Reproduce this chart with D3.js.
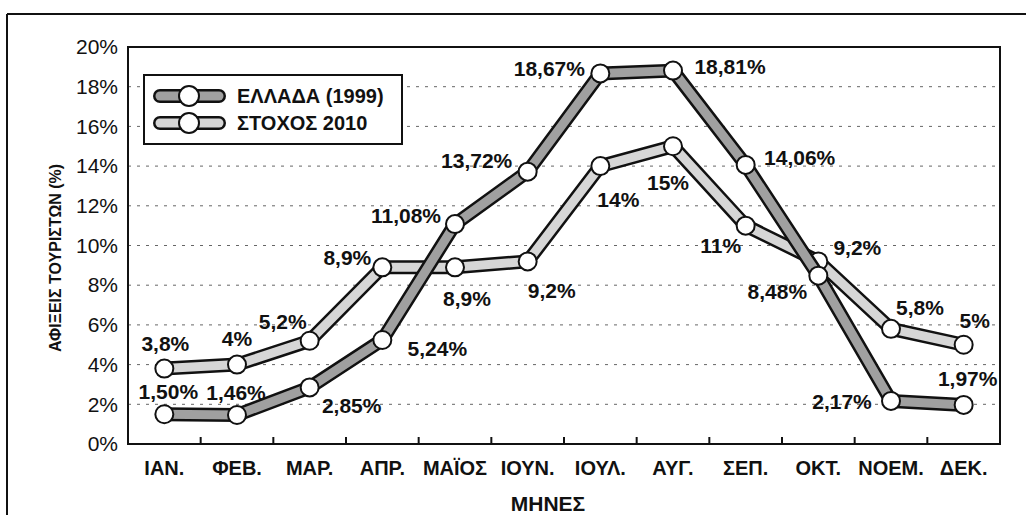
<!DOCTYPE html>
<html>
<head>
<meta charset="utf-8">
<script src="https://cdn.jsdelivr.net/npm/d3@7"></script>
<style>
  html, body { margin: 0; padding: 0; background: #fff; }
  svg { display: block; }
  text { font-family: 'Liberation Sans', Arial, sans-serif; fill: #111; }
</style>
</head>
<body>
<div id="chart"></div>
<script>
(function () {
  'use strict';

  /* data */
  var months = ['ΙΑΝ.', 'ΦΕΒ.', 'ΜΑΡ.', 'ΑΠΡ.', 'ΜΑΪΟΣ', 'ΙΟΥΝ.', 'ΙΟΥΛ.', 'ΑΥΓ.', 'ΣΕΠ.', 'ΟΚΤ.', 'ΝΟΕΜ.', 'ΔΕΚ.'];
  var greece1999 = [1.50, 1.46, 2.85, 5.24, 11.08, 13.72, 18.67, 18.81, 14.06, 8.48, 2.17, 1.97];
  var target2010 = [3.8, 4, 5.2, 8.9, 8.9, 9.2, 14, 15, 11, 9.2, 5.8, 5];
  var labels1999 = ['1,50%', '1,46%', '2,85%', '5,24%', '11,08%', '13,72%', '18,67%', '18,81%', '14,06%', '8,48%', '2,17%', '1,97%'];
  var labels2010 = ['3,8%', '4%', '5,2%', '8,9%', '8,9%', '9,2%', '14%', '15%', '11%', '9,2%', '5,8%', '5%'];
  var yTicks = [0, 2, 4, 6, 8, 10, 12, 14, 16, 18, 20];
  var seriesNames = ['ΕΛΛΑΔΑ (1999)', 'ΣΤΟΧΟΣ 2010'];

  /* where each value label sits relative to its point */
  var OFFSETS_1999 = [[4, -23], [-1, -23], [42, 18], [55, 9], [-49, -9], [-51, -11],
    [-51, -5], [57, -4], [54, -7], [-41, 16], [-49, 1], [4, -26]];
  var OFFSETS_2010 = [[1, -25], [0, -26], [-27, -19], [-35, -10], [12, 31], [24, 29],
    [18, 33], [-5, 36], [-25, 20], [39, -14], [29, -21], [11, -24]];

  var COLORS = {
    G1999: '#a0a0a0',
    T2010: '#d6d6d6'
  };

  var width = 1026;
  var height = 515;
  var plot = { left: 128, top: 47, right: 1000, bottom: 444 };

  var svg = d3.select('#chart').append('svg')
    .attr('width', width)
    .attr('height', height);

  var x = d3.scaleBand()
    .domain(months)
    .range([plot.left, plot.right])
    .padding(0);

  var y = d3.scaleLinear()
    .domain([0, 20])
    .range([plot.bottom, plot.top]);

  _drawFrame();
  _drawGrid();
  _drawAxes();
  _drawSeries(target2010, labels2010, OFFSETS_2010, COLORS.T2010);
  _drawSeries(greece1999, labels1999, OFFSETS_1999, COLORS.G1999);
  _drawLegend();

  function _drawFrame() {
    // outer page border (top and left only are visible)
    svg.append('line')
      .attr('x1', 7).attr('x2', width).attr('y1', 14).attr('y2', 14)
      .attr('stroke', '#111').attr('stroke-width', 2);
    svg.append('line')
      .attr('x1', 7).attr('x2', 7).attr('y1', 14).attr('y2', height)
      .attr('stroke', '#111').attr('stroke-width', 2);
  }

  function _drawGrid() {
    svg.append('g')
      .selectAll('line')
      .data(yTicks.filter(function (d) { return d > 0 && d < 20; }))
      .enter()
      .append('line')
      .attr('x1', plot.left)
      .attr('x2', plot.right)
      .attr('y1', function (d) { return y(d); })
      .attr('y2', function (d) { return y(d); })
      .attr('stroke', '#666')
      .attr('stroke-width', 1)
      .attr('stroke-dasharray', '3,6');
  }

  function _drawAxes() {
    svg.append('rect')
      .attr('x', plot.left)
      .attr('y', plot.top)
      .attr('width', plot.right - plot.left)
      .attr('height', plot.bottom - plot.top)
      .attr('fill', 'none')
      .attr('stroke', '#111')
      .attr('stroke-width', 2);

    // y tick labels
    var yAxis = svg.append('g')
      .attr('transform', 'translate(' + plot.left + ',0)')
      .call(d3.axisLeft(y).tickValues(yTicks).tickSize(0).tickPadding(10)
        .tickFormat(function (d) { return d + '%'; }));
    yAxis.select('.domain').remove();
    yAxis.selectAll('text')
      .style('font-family', "'Liberation Sans', sans-serif")
      .style('font-size', '21px')
      .attr('fill', '#111');

    // x ticks at band boundaries, pointing inward
    svg.append('g')
      .selectAll('line')
      .data(months.slice(1))
      .enter()
      .append('line')
      .attr('x1', function (d) { return x(d); })
      .attr('x2', function (d) { return x(d); })
      .attr('y1', plot.bottom)
      .attr('y2', plot.bottom - 7)
      .attr('stroke', '#111')
      .attr('stroke-width', 2);

    var xAxis = svg.append('g')
      .attr('transform', 'translate(0,' + plot.bottom + ')')
      .call(d3.axisBottom(x).tickSize(0).tickPadding(17));
    xAxis.select('.domain').remove();
    xAxis.selectAll('text')
      .style('font-family', "'Liberation Sans', sans-serif")
      .style('font-size', '20px')
      .style('font-weight', 'bold')
      .attr('fill', '#111');

    svg.append('text')
      .attr('x', 548)
      .attr('y', 503)
      .attr('text-anchor', 'middle')
      .attr('dominant-baseline', 'central')
      .style('font-size', '21px')
      .style('font-weight', 'bold')
      .text('ΜΗΝΕΣ');

    svg.append('text')
      .attr('transform', 'translate(55,258)rotate(-90)')
      .attr('text-anchor', 'middle')
      .attr('dominant-baseline', 'central')
      .style('font-size', '16px')
      .style('font-weight', 'bold')
      .text('ΑΦΙΞΕΙΣ ΤΟΥΡΙΣΤΩΝ (%)');
  }

  function _drawSeries(values, texts, offsets, fill) {
    var points = values.map(function (v, i) {
      return { x: x(months[i]) + x.bandwidth() / 2, y: y(v), label: texts[i], off: offsets[i] };
    });
    var line = d3.line()
      .x(function (d) { return d.x; })
      .y(function (d) { return d.y; });

    var g = svg.append('g');
    g.append('path')
      .datum(points)
      .attr('d', line)
      .attr('fill', 'none')
      .attr('stroke', '#111')
      .attr('stroke-width', 14)
      .attr('stroke-linejoin', 'round');
    g.append('path')
      .datum(points)
      .attr('d', line)
      .attr('fill', 'none')
      .attr('stroke', fill)
      .attr('stroke-width', 9)
      .attr('stroke-linejoin', 'round');

    g.selectAll('circle')
      .data(points)
      .enter()
      .append('circle')
      .attr('cx', function (d) { return d.x; })
      .attr('cy', function (d) { return d.y; })
      .attr('r', 9)
      .attr('fill', '#fff')
      .attr('stroke', '#111')
      .attr('stroke-width', 2);

    g.selectAll('text')
      .data(points)
      .enter()
      .append('text')
      .attr('x', function (d) { return d.x + d.off[0]; })
      .attr('y', function (d) { return d.y + d.off[1]; })
      .attr('text-anchor', 'middle')
      .attr('dominant-baseline', 'central')
      .style('font-size', '21px')
      .style('font-weight', 'bold')
      .text(function (d) { return d.label; });
  }

  function _drawLegend() {
    var box = svg.append('g');
    box.append('rect')
      .attr('x', 144).attr('y', 75)
      .attr('width', 258).attr('height', 69)
      .attr('fill', '#fff')
      .attr('stroke', '#111')
      .attr('stroke-width', 2);

    var fills = [COLORS.G1999, COLORS.T2010];
    var rows = box.selectAll('g.row')
      .data(seriesNames)
      .enter()
      .append('g')
      .attr('class', 'row')
      .attr('transform', function (d, i) { return 'translate(0,' + (96 + i * 27) + ')'; });

    rows.append('line')
      .attr('x1', 160).attr('x2', 219).attr('y1', 0).attr('y2', 0)
      .attr('stroke', '#111').attr('stroke-width', 14).attr('stroke-linecap', 'round');
    rows.append('line')
      .attr('x1', 160).attr('x2', 219).attr('y1', 0).attr('y2', 0)
      .attr('stroke', function (d, i) { return fills[i]; })
      .attr('stroke-width', 9).attr('stroke-linecap', 'round');
    rows.append('circle')
      .attr('cx', 189).attr('cy', 0).attr('r', 10)
      .attr('fill', '#fff').attr('stroke', '#111').attr('stroke-width', 2);
    rows.append('text')
      .attr('x', 237).attr('y', 0)
      .attr('dominant-baseline', 'central')
      .style('font-size', '20px')
      .style('font-weight', 'bold')
      .text(function (d) { return d; });
  }
}());
</script>
</body>
</html>
